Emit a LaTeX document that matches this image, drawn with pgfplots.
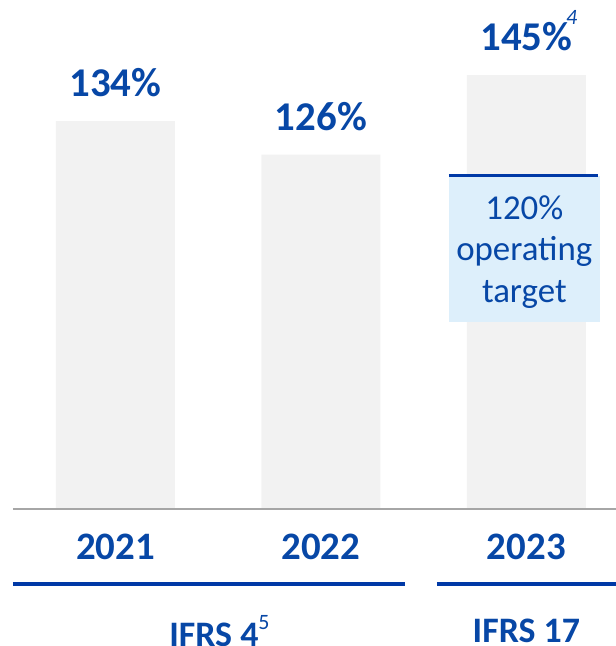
\documentclass[border=0pt]{standalone}
\usepackage{fontspec}
\setmainfont{Carlito}
\usepackage{pgfplots}
\pgfplotsset{compat=1.18}
\definecolor{navy}{HTML}{0747A6}
\definecolor{linenavy}{HTML}{0039A6}
\definecolor{barg}{HTML}{F2F2F2}
\definecolor{boxb}{HTML}{DDEFFB}
\definecolor{basegray}{HTML}{A6A6A6}
\tikzset{yearlab/.style={text=navy, font=\fontsize{39}{39}\selectfont\bfseries}}

\begin{document}
\begin{tikzpicture}
\begin{axis}[
  scale only axis, width=603bp, height=509bp,
  xmin=-0.499, xmax=2.436, ymin=41.2, ymax=163,
  axis lines=none,
  clip mode=individual,
  ybar, bar width=119bp, bar shift=0pt,
  point meta=explicit symbolic,
  nodes near coords,
  every node near coord/.style={anchor=south, inner sep=0pt, yshift=24bp,
    font=\fontsize{41}{41}\selectfont\bfseries, text=navy},
]
\addplot[fill=barg, draw=none] coordinates {(0,134) [134\%] (1,126) [126\%] (2,145) [145\%]};

% operating target box
\fill[boxb] (axis cs:1.623,85.9) rectangle (axis cs:2.358,121);
\draw[linenavy, line width=3bp] (axis cs:1.623,121) -- (axis cs:2.348,121);
\node[align=center, text=navy, font=\fontsize{35}{42}\selectfont] at (axis cs:1.99,102.7)
  {120\%\\operating\\target};
\node[text=navy, font=\fontsize{22}{22}\selectfont\itshape] at (axis cs:2.221,158.7) {4};

% baseline
\draw[basegray, line width=1.5bp] (axis cs:-0.499,41.2) -- (axis cs:2.436,41.2);

% years
\node[yearlab] at (axis cs:0,32.1) {2021};
\node[yearlab] at (axis cs:1,32.1) {2022};
\node[yearlab] at (axis cs:2,32.1) {2023};

% standard brackets
\draw[linenavy, line width=4bp] (axis cs:-0.499,23.3) -- (axis cs:1.409,23.3);
\draw[linenavy, line width=4bp] (axis cs:1.564,23.3) -- (axis cs:2.436,23.3);
\node[text=navy, font=\fontsize{36}{36}\selectfont\bfseries] at (axis cs:0.506,12.0)
  {IFRS 4\raisebox{17bp}{\fontsize{22}{22}\selectfont\mdseries 5}};
\node[text=navy, font=\fontsize{36}{36}\selectfont\bfseries] at (axis cs:2.0,12.0) {IFRS 17};

\coordinate (bl) at (axis cs:-0.562,8.42);
\coordinate (tr) at (axis cs:2.436,163);
\end{axis}
\pgfresetboundingbox
\path[use as bounding box] (bl) rectangle (tr);
\end{tikzpicture}
\end{document}
